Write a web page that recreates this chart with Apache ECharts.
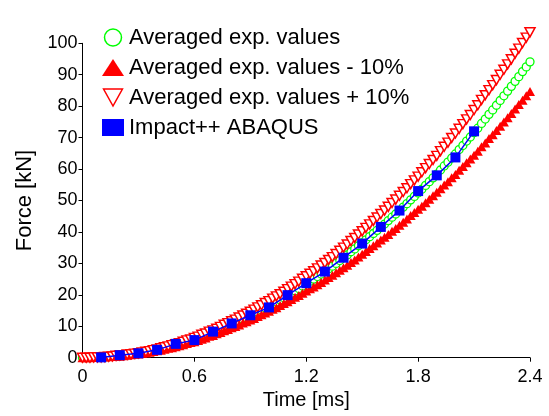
<!DOCTYPE html>
<html>
<head>
<meta charset="utf-8">
<script src="https://cdn.jsdelivr.net/npm/echarts@6/dist/echarts.min.js"></script>
<style>html,body{margin:0;padding:0;background:#fff;}#c{width:549px;height:416px;}</style>
</head>
<body>
<div id="c"></div>
<script>
// Time axis of the experimental series [ms]
var timeExp = [0,0.02,0.04,0.06,0.08,0.1,0.12,0.14,0.16,0.18,0.2,0.22,0.24,0.26,0.28,0.3,0.32,0.34,0.36,0.38,
0.4,0.42,0.44,0.46,0.48,0.5,0.52,0.54,0.56,0.58,0.6,0.62,0.64,0.66,0.68,0.7,0.72,0.74,0.76,0.78,
0.8,0.82,0.84,0.86,0.88,0.9,0.92,0.94,0.96,0.98,1,1.02,1.04,1.06,1.08,1.1,1.12,1.14,1.16,1.18,
1.2,1.22,1.24,1.26,1.28,1.3,1.32,1.34,1.36,1.38,1.4,1.42,1.44,1.46,1.48,1.5,1.52,1.54,1.56,1.58,
1.6,1.62,1.64,1.66,1.68,1.7,1.72,1.74,1.76,1.78,1.8,1.82,1.84,1.86,1.88,1.9,1.92,1.94,1.96,1.98,
2,2.02,2.04,2.06,2.08,2.1,2.12,2.14,2.16,2.18,2.2,2.22,2.24,2.26,2.28,2.3,2.32,2.34,2.36,2.38,2.4];
// Averaged exp. values [kN]
var avgExp = [0,0,0,0.1,0.1, 0.1,0.2,0.3,0.4,0.5, 0.6,0.7,0.9,1.0,1.2, 1.3,1.5,1.7,1.9,2.2,
2.4,2.7,3.0,3.3,3.6, 3.9,4.2,4.6,5.0,5.3, 5.7,6.1,6.6,7.0,7.5, 7.9,8.4,8.9,9.5,10.0,
10.5,11.0,11.6,12.2,12.7, 13.3,13.9,14.5,15.2,15.8, 16.4,17.1,17.7,18.4,19.1, 19.8,20.5,21.3,22.0,22.8,
23.5,24.3,25.0,25.8,26.6, 27.4,28.3,29.1,30.0,30.9, 31.8,32.7,33.7,34.6,35.6, 36.5,37.5,38.5,39.5,40.5,
41.5,42.5,43.6,44.7,45.7, 46.8,47.9,49.0,50.2,51.3, 52.4,53.6,54.8,56.0,57.2, 58.4,59.7,61.0,62.2,63.5,
64.8,66.2,67.5,68.9,70.2, 71.6,73.0,74.5,75.9,77.4, 78.8,80.3,81.8,83.3,84.8, 86.3,87.9,89.4,91.0,92.5, 94.1];
// Averaged exp. values - 10% [kN]
var avgMinus = [0,0,0,0.1,0.1, 0.1,0.2,0.3,0.4,0.5, 0.5,0.6,0.8,0.9,1.1, 1.2,1.4,1.5,1.7,2.0,
2.2,2.4,2.7,3.0,3.2, 3.5,3.8,4.1,4.5,4.8, 5.1,5.5,5.9,6.3,6.8, 7.1,7.6,8.0,8.6,9.0,
9.5,9.9,10.4,11.0,11.4, 12.0,12.5,13.1,13.7,14.2, 14.8,15.4,15.9,16.6,17.2, 17.8,18.5,19.2,19.8,20.5,
21.2,21.9,22.5,23.2,23.9, 24.7,25.5,26.2,27.0,27.8, 28.6,29.4,30.3,31.1,32.0, 32.9,33.8,34.7,35.6,36.5,
37.4,38.3,39.2,40.2,41.1, 42.1,43.1,44.1,45.2,46.2, 47.2,48.2,49.3,50.4,51.5, 52.6,53.7,54.9,56.0,57.2,
58.3,59.6,60.8,62.0,63.2, 64.4,65.7,67.1,68.3,69.7, 70.9,72.3,73.6,75.0,76.3, 77.7,79.1,80.5,81.9,83.3, 84.7];
// Averaged exp. values + 10% [kN]
var avgPlus = [0,0,0,0.1,0.1, 0.1,0.2,0.3,0.4,0.6, 0.7,0.8,1.0,1.1,1.3, 1.4,1.7,1.9,2.1,2.4,
2.6,3.0,3.3,3.6,4.0, 4.3,4.6,5.1,5.5,5.8, 6.3,6.7,7.3,7.7,8.3, 8.7,9.2,9.8,10.5,11.0,
11.6,12.1,12.8,13.4,14.0, 14.6,15.3,16.0,16.7,17.4, 18.0,18.8,19.5,20.2,21.0, 21.8,22.6,23.4,24.2,25.1,
25.9,26.7,27.5,28.4,29.3, 30.1,31.1,32.0,33.0,34.0, 35.0,36.0,37.1,38.1,39.2, 40.2,41.3,42.4,43.5,44.6,
45.7,46.8,48.0,49.2,50.3, 51.5,52.7,53.9,55.2,56.4, 57.6,59.0,60.3,61.6,62.9, 64.2,65.7,67.1,68.4,69.9,
71.3,72.8,74.3,75.8,77.2, 78.8,80.3,82.0,83.5,85.1, 86.7,88.3,90.0,91.6,93.3, 94.9,96.7,98.3,100.1,101.8, 103.5];
// Impact++ ABAQUS
var timeSim = [0.1,0.2,0.3,0.4,0.5,0.6,0.7,0.8,0.9,1.0,1.1,1.2,1.3,1.4,1.5,1.6,1.7,1.8,1.9,2.0,2.1];
var forceSim = [0.1,0.8,1.4,2.5,4.4,5.6,8.3,10.9,13.5,16.0,19.9,23.7,27.4,31.8,36.3,41.6,46.8,53.0,58.0,63.7,72.0];
var seriesNames = ['Averaged exp. values','Averaged exp. values - 10%','Averaged exp. values + 10%','Impact++ ABAQUS'];
var xTicks = [0,0.6,1.2,1.8,2.4];

function pairs(xs, ys){ return xs.map(function(x,i){ return [x, ys[i]]; }); }
var FONT = 'Liberation Sans, Arial, sans-serif';
var invTri = 'path://M0,0 L20,0 L10,18 Z';

var chart = echarts.init(document.getElementById('c'), null, {renderer:'canvas'});
chart.setOption({
  animation:false,
  backgroundColor:'#fff',
  grid:{left:82.5, right:19, top:43.3, bottom:58.3},
  legend:{
    orient:'vertical', left:97, top:21.5, itemWidth:22, itemHeight:17, itemGap:8,
    textStyle:{fontFamily:FONT, fontSize:22, color:'#000', lineHeight:20},
    data:[
      {name:seriesNames[0], icon:'circle', itemStyle:{color:'#fff', borderColor:'#00ff00', borderWidth:1.5}},
      {name:seriesNames[1], icon:'triangle', itemStyle:{color:'#ff0000', borderWidth:0}},
      {name:seriesNames[2], icon:invTri, itemStyle:{color:'#fff', borderColor:'#ff0000', borderWidth:1.5}},
      {name:seriesNames[3], icon:'rect', itemStyle:{color:'#0000ff', borderWidth:0}}
    ]
  },
  xAxis:{
    type:'value', min:0, max:2.4, interval:0.6,
    name:'Time [ms]', nameLocation:'middle', nameGap:31,
    nameTextStyle:{fontFamily:FONT, fontSize:20, color:'#000'},
    axisLine:{lineStyle:{color:'#000', width:1}},
    axisTick:{show:true, length:4, lineStyle:{color:'#000'}},
    axisLabel:{fontFamily:FONT, fontSize:18, color:'#000', margin:10,
      formatter:function(v){ for(var i=0;i<xTicks.length;i++){ if(Math.abs(v-xTicks[i])<1e-6) return String(xTicks[i]); } return ''; }},
    splitLine:{show:false}
  },
  yAxis:{
    type:'value', min:0, max:100, interval:10,
    name:'Force [kN]', nameLocation:'middle', nameGap:47,
    nameTextStyle:{fontFamily:FONT, fontSize:22, color:'#000'},
    axisLine:{show:true, lineStyle:{color:'#000', width:1}},
    axisTick:{show:true, length:4, lineStyle:{color:'#000'}},
    axisLabel:{fontFamily:FONT, fontSize:18, color:'#000', margin:5},
    splitLine:{show:false}
  },
  series:[
    {name:seriesNames[0], type:'line', data:pairs(timeExp, avgExp), clip:false, z:2,
      symbol:'circle', symbolSize:8, showAllSymbol:true,
      lineStyle:{color:'#00ff00', width:1},
      itemStyle:{color:'#fff', borderColor:'#00ff00', borderWidth:1.3}},
    {name:seriesNames[1], type:'line', data:pairs(timeExp, avgMinus), clip:false, z:3,
      symbol:'triangle', symbolSize:[10,9], showAllSymbol:true,
      lineStyle:{color:'#ff0000', width:1},
      itemStyle:{color:'#ff0000', borderWidth:0}},
    {name:seriesNames[2], type:'line', data:pairs(timeExp, avgPlus), clip:false, z:4,
      symbol:invTri, symbolSize:[10,9], showAllSymbol:true,
      lineStyle:{color:'#ff0000', width:1},
      itemStyle:{color:'#fff', borderColor:'#ff0000', borderWidth:1.5}},
    {name:seriesNames[3], type:'line', data:pairs(timeSim, forceSim), clip:false, z:5,
      symbol:'rect', symbolSize:10, showAllSymbol:true,
      lineStyle:{color:'#0000ff', width:1.5},
      itemStyle:{color:'#0000ff', borderWidth:0}}
  ]
});
</script>
</body>
</html>
